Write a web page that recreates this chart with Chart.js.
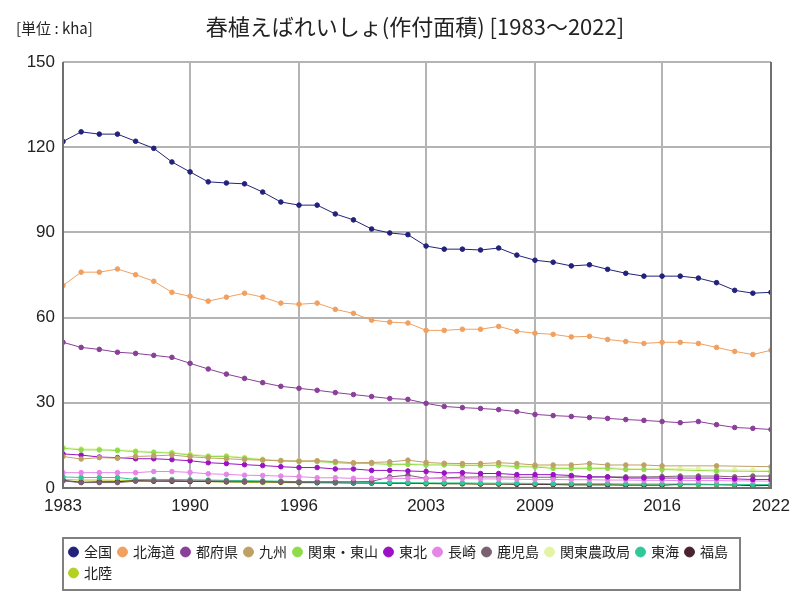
<!DOCTYPE html>
<html lang="ja">
<head>
    <meta charset="UTF-8">
    <title>春植えばれいしょ(作付面積)</title>
    <script src="https://cdn.jsdelivr.net/npm/chart.js"></script>
    <style>
        html, body { margin: 0; padding: 0; background: #fff; }
        #wrap { width: 800px; height: 600px; position: relative; }
    </style>
</head>
<body>
<div id="wrap"><canvas id="chart" width="800" height="600"></canvas></div>
<script>
// data (kha), 1983-2022
const years = [];
for (let y = 1983; y <= 2022; y++) years.push(y);
const tickYears = [1983, 1990, 1996, 2003, 2009, 2016, 2022];

const zenkoku = [122.0,125.4,124.6,124.6,122.1,119.6,114.8,111.3,107.8,107.4,107.1,104.2,100.7,99.6,99.6,96.5,94.4,91.2,89.8,89.2,85.2,84.1,84.1,83.8,84.5,82.0,80.2,79.5,78.2,78.6,77.0,75.6,74.6,74.6,74.6,73.9,72.3,69.6,68.6,68.9];
const hokkaido = [71.3,76.0,76.0,77.1,75.1,72.8,68.9,67.5,65.8,67.2,68.6,67.2,65.1,64.7,65.1,62.9,61.5,59.1,58.4,58.1,55.5,55.5,55.9,55.9,56.9,55.2,54.5,54.1,53.2,53.4,52.3,51.6,50.9,51.3,51.3,50.9,49.5,48.1,47.0,48.5];
const tofuken = [51.3,49.5,48.8,47.8,47.4,46.7,46.0,43.9,41.9,40.1,38.6,37.1,35.8,35.1,34.4,33.6,32.9,32.2,31.5,31.2,29.8,28.7,28.3,28.0,27.6,26.9,25.9,25.5,25.2,24.8,24.5,24.1,23.8,23.4,23.0,23.4,22.3,21.3,21.0,20.6];
const kyushu = [11.1,10.2,10.7,10.5,11.1,11.3,11.6,11.0,10.6,10.3,10.0,9.8,9.6,9.5,9.6,9.3,8.9,9.0,9.2,9.8,9.0,8.7,8.6,8.6,8.9,8.6,8.1,8.1,8.1,8.6,8.1,8.1,8.1,7.8,null,null,7.8,null,null,7.5];
const kantoTozan = [14.0,13.4,13.4,13.2,12.8,12.5,12.3,11.6,11.1,11.1,10.5,9.9,9.5,9.3,9.3,8.9,8.6,8.6,8.3,8.3,8.1,8.1,7.9,7.9,7.9,7.5,7.4,6.9,6.9,6.9,6.9,6.5,6.5,6.5,null,null,6.0,null,null,5.8];
const tohoku = [12.0,11.6,10.9,10.7,10.3,10.3,10.0,9.6,8.9,8.6,8.2,7.9,7.5,7.2,7.2,6.7,6.7,6.2,6.2,6.0,5.8,5.3,5.4,5.1,5.1,4.7,4.7,4.7,4.4,3.9,3.9,3.5,3.5,3.5,3.5,3.5,3.5,3.2,3.0,3.0];
const nagasaki = [5.4,5.4,5.4,5.4,5.4,5.8,5.8,5.5,5.0,4.8,4.5,4.4,4.2,4.0,3.6,3.6,3.4,3.4,3.4,3.4,3.4,3.3,3.3,3.2,3.2,3.1,3.0,3.0,2.9,2.9,2.8,2.8,2.7,2.7,2.6,2.6,2.6,2.5,2.5,2.4];
const kagoshima = [2.5,1.9,1.9,1.9,2.4,2.5,2.6,2.5,2.5,2.4,2.3,2.3,2.2,2.2,2.2,2.2,2.2,2.3,3.9,4.5,3.4,3.6,3.8,3.9,3.9,3.8,3.8,3.8,3.9,3.9,3.9,3.9,3.9,4.0,4.2,4.2,4.2,3.9,4.2,4.2];
const kantoNoseikyoku = [14.3,13.8,13.7,13.5,13.1,12.8,12.6,11.9,11.4,11.4,10.8,10.2,9.8,9.6,9.6,9.2,8.9,8.9,8.6,8.6,8.4,8.4,8.2,8.2,8.2,7.8,7.7,7.3,7.3,7.3,7.2,6.9,6.9,6.9,6.8,6.7,6.5,6.4,6.3,6.2];
const tokai = [3.9,3.7,3.7,3.7,3.0,3.0,3.0,2.9,2.8,2.7,2.6,2.5,2.4,2.2,2.1,2.1,2.0,2.0,1.9,1.9,1.8,1.8,1.8,1.7,1.7,1.7,1.6,1.5,1.5,1.5,1.5,1.4,1.4,1.4,1.4,1.3,1.3,1.3,1.2,1.2];
const fukushima = [2.7,2.0,2.2,2.2,2.6,2.4,2.4,2.3,2.3,2.2,2.2,2.2,2.1,2.0,1.9,1.9,1.8,1.8,1.7,1.7,1.6,1.5,1.5,1.4,1.4,1.3,1.3,1.2,1.1,1.1,1.1,1.0,1.0,1.0,1.3,1.3,1.2,1.1,0.8,0.9];
const hokuriku = [3.0,2.8,2.8,2.7,2.6,2.5,2.4,2.3,2.2,2.1,2.0,1.9,1.9,1.8,1.8,1.7,1.7,1.6,1.6,1.6,1.5,1.5,1.5,1.4,1.4,1.4,1.3,1.3,1.3,1.2,1.2,1.2,1.2,1.1,1.1,1.1,1.1,1.0,1.0,1.0];

const seriesNames = ['全国','北海道','都府県','九州','関東・東山','東北','長崎','鹿児島','関東農政局','東海','福島','北陸'];
const seriesValues = [zenkoku, hokkaido, tofuken, kyushu, kantoTozan, tohoku, nagasaki, kagoshima, kantoNoseikyoku, tokai, fukushima, hokuriku];
const seriesColors = ['#22227a','#f0a060','#8a3f98','#bfa066','#8fdc4b','#9a12c4','#e486e6','#7a6070','#e4f4a4','#30c898','#4a2232','#b6d022'];

const CJK = '"Noto Sans CJK JP", "Noto Sans", sans-serif';
const NARROW = '"Liberation Sans Narrow", "Liberation Sans", sans-serif';

const headerPlugin = {
    id: 'header',
    afterDraw(chart) {
        const ctx = chart.ctx;
        ctx.save();
        ctx.fillStyle = '#222';
        ctx.textBaseline = 'middle';
        ctx.font = '15px ' + CJK;
        ctx.textAlign = 'left';
        ctx.fillText('[単位 : kha]', 16, 28);
        ctx.font = '22px ' + CJK;
        ctx.textAlign = 'center';
        ctx.fillText('春植えばれいしょ(作付面積) [1983～2022]', 415, 27);
        // plot border
        const a = chart.chartArea;
        ctx.strokeStyle = '#707070';
        ctx.lineWidth = 2;
        ctx.beginPath();
        ctx.moveTo(a.left, a.top);
        ctx.lineTo(a.left, a.bottom);
        ctx.lineTo(a.right, a.bottom);
        ctx.lineTo(a.right, a.top);
        ctx.stroke();
        // legend frame
        const lg = chart.legend;
        ctx.strokeStyle = '#808080';
        ctx.strokeRect(63, lg.top, 677, lg.height);
        ctx.restore();
    }
};

new Chart(document.getElementById('chart'), {
    type: 'line',
    data: {
        datasets: seriesNames.map((name, i) => ({
            label: name,
            data: years.map((y, j) => ({ x: y, y: seriesValues[i][j] })),
            borderColor: seriesColors[i],
            backgroundColor: seriesColors[i],
            borderWidth: 1,
            pointRadius: 2.3,
            pointHoverRadius: 3,
            spanGaps: true,
            tension: 0
        }))
    },
    options: {
        responsive: false,
        animation: false,
        layout: { padding: { top: 62, left: 10, right: 29, bottom: 10 } },
        plugins: {
            legend: {
                position: 'bottom',
                align: 'start',
                fullSize: false,
                labels: {
                    usePointStyle: true,
                    pointStyle: 'circle',
                    boxWidth: 7,
                    boxHeight: 7,
                    padding: 7,
                    color: '#222',
                    font: { size: 14, family: CJK }
                }
            },
            tooltip: { enabled: false }
        },
        scales: {
            x: {
                type: 'linear',
                min: 1983,
                max: 2022,
                afterBuildTicks: s => { s.ticks = tickYears.map(v => ({ value: v })); },
                afterFit: s => { s.height = 50; },
                grid: { color: '#b4b4b4', lineWidth: 2, drawTicks: false },
                border: { display: false },
                ticks: {
                    color: '#222',
                    padding: 8,
                    maxRotation: 0,
                    font: { size: 17, family: NARROW },
                    callback: v => String(v)
                }
            },
            y: {
                min: 0,
                max: 150,
                afterFit: s => { s.width = 53; },
                grid: { color: '#b4b4b4', lineWidth: 2, drawTicks: false },
                border: { display: false },
                ticks: {
                    stepSize: 30,
                    color: '#222',
                    padding: 8,
                    font: { size: 17, family: NARROW }
                }
            }
        }
    },
    plugins: [headerPlugin]
});
</script>
</body>
</html>
